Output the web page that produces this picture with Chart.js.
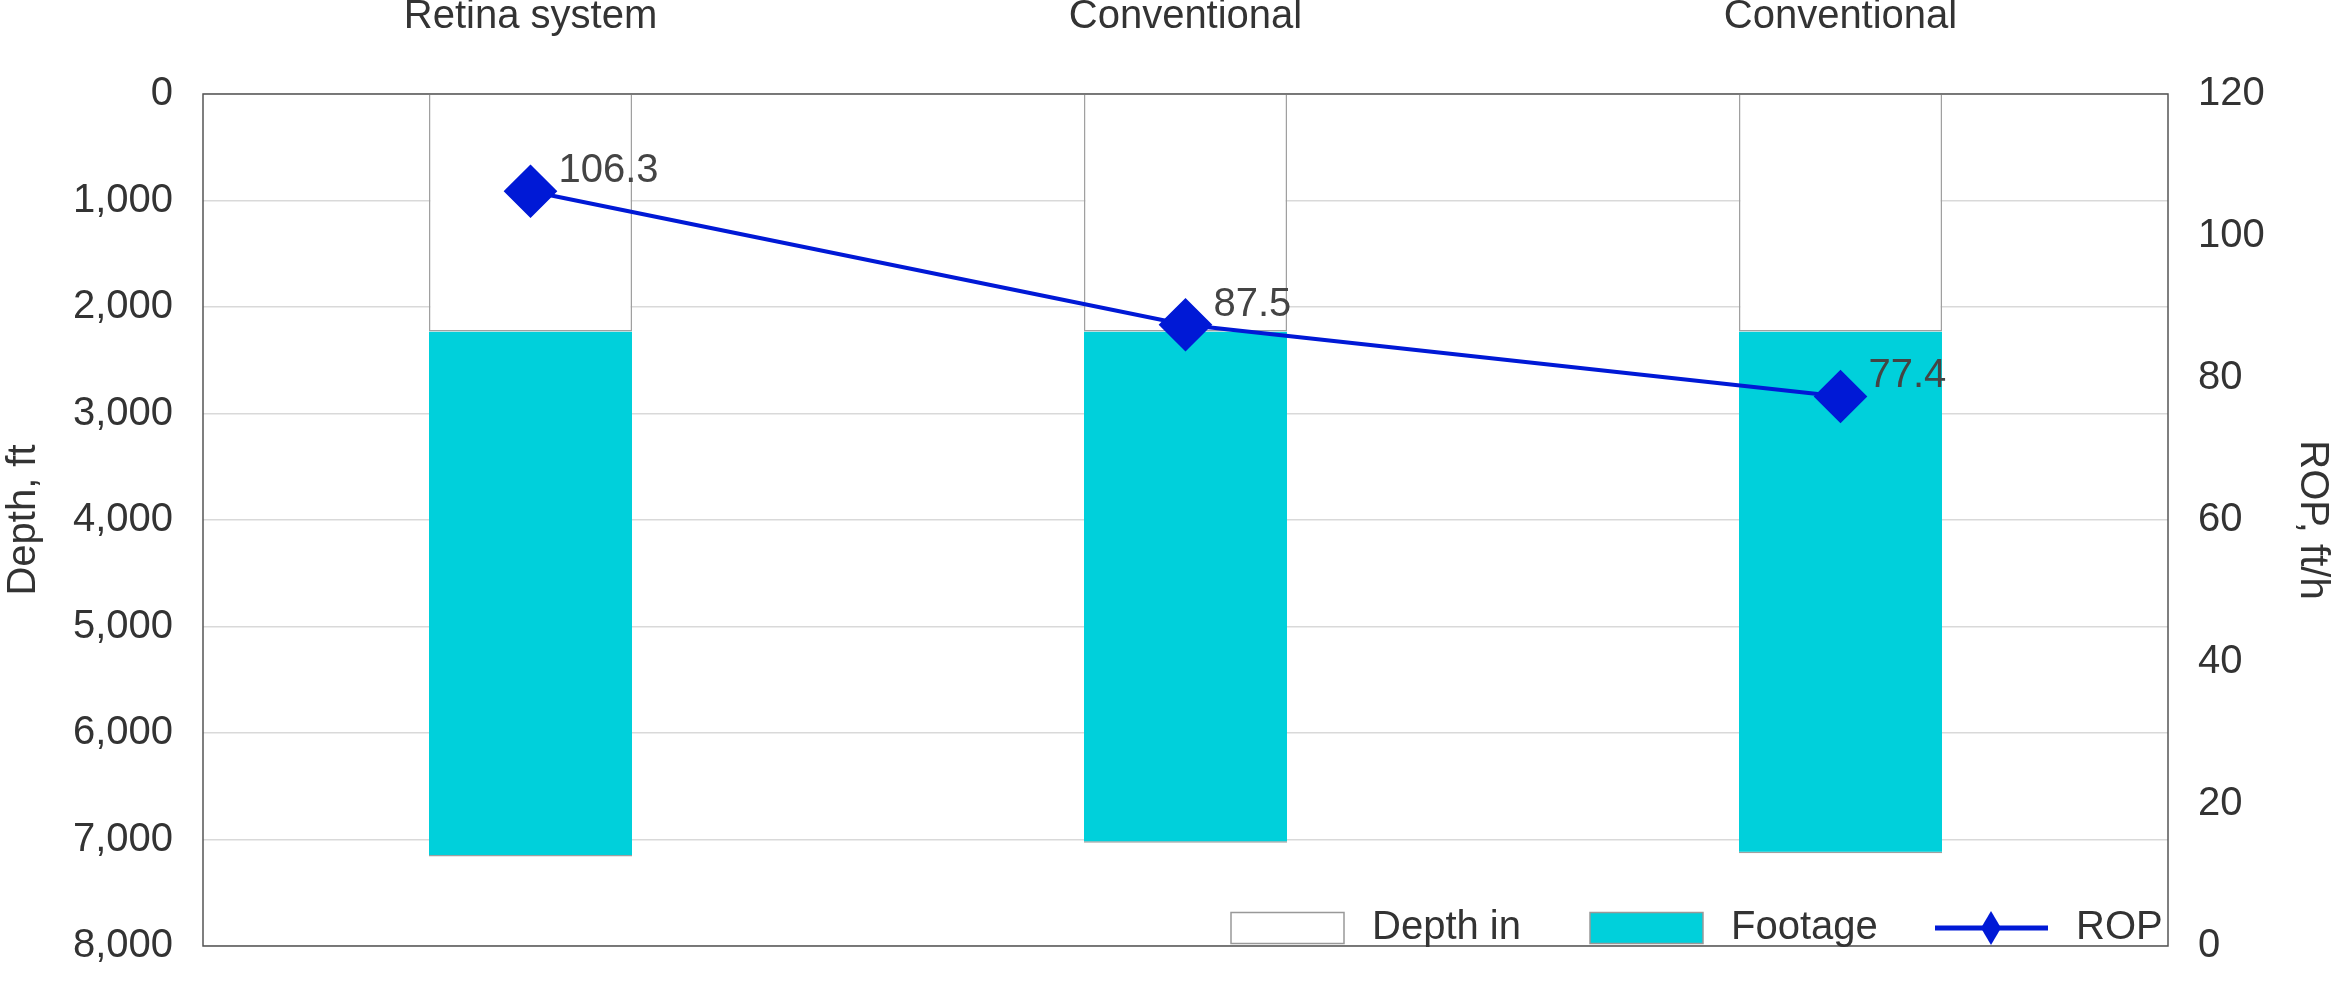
<!DOCTYPE html>
<html><head><meta charset="utf-8">
<script src="https://cdn.jsdelivr.net/npm/chart.js@4/dist/chart.umd.min.js"></script>
<style>html,body{margin:0;padding:0;background:#fff}#w{width:2336px;height:1000px}</style>
</head><body><div id="w"><canvas id="c"></canvas></div>
<script>
const categories = ["Retina system", "Conventional", "Conventional"];
const depthIn = [2230, 2230, 2230];
const footage = [4930, 4800, 4900];
const rop = [106.3, 87.5, 77.4];
const depthTicks = [0,1000,2000,3000,4000,5000,6000,7000,8000];
const ropTicks = [0,20,40,60,80,100,120];

const FONT = "'Liberation Sans Narrow','Liberation Sans',Arial,sans-serif";
const TXT = '#333333';
const BLUE = '#0019D6';
const CYAN = '#00D0DB';

const extras = {
  id:'extras',
  afterDatasetsDraw(chart){
    const ctx = chart.ctx, a = chart.chartArea;
    ctx.save();
    // labels for ROP
    const meta = chart.getDatasetMeta(2);
    ctx.font = '40px ' + FONT; ctx.fillStyle = '#444'; ctx.textBaseline='middle'; ctx.textAlign='left';
    meta.data.forEach((p,i)=>{ ctx.fillText(rop[i].toFixed(1), p.x+28, p.y-20); });
    // border
    ctx.strokeStyle='#555'; ctx.lineWidth=1.5;
    ctx.strokeRect(a.left, a.top, a.right-a.left, a.bottom-a.top);
    // legend
    const ly = 928, bw=113, bh=31;
    ctx.font = '40px ' + FONT; ctx.fillStyle=TXT;
    const items = [
      {x:1231, type:'box', fill:'#fff', label:chart.data.datasets[0].label},
      {x:1590, type:'box', fill:CYAN, label:chart.data.datasets[1].label},
      {x:1935, type:'line', label:chart.data.datasets[2].label}
    ];
    items.forEach(it=>{
      if(it.type==='box'){
        ctx.fillStyle=it.fill; ctx.fillRect(it.x, ly-bh/2, bw, bh);
        ctx.strokeStyle='#999'; ctx.lineWidth=1.5; ctx.strokeRect(it.x, ly-bh/2, bw, bh);
      } else {
        ctx.strokeStyle=BLUE; ctx.lineWidth=5; ctx.beginPath(); ctx.moveTo(it.x, ly); ctx.lineTo(it.x+113, ly); ctx.stroke();
        ctx.fillStyle=BLUE; ctx.beginPath(); const cx=it.x+56;
        ctx.moveTo(cx, ly-17); ctx.lineTo(cx+10, ly); ctx.lineTo(cx, ly+17); ctx.lineTo(cx-10, ly); ctx.closePath(); ctx.fill();
      }
      ctx.fillStyle=TXT; ctx.fillText(it.label, it.x+bw+28, ly);
    });
    ctx.restore();
  }
};

new Chart(document.getElementById('c'), {
  data:{
    labels: categories,
    datasets:[
      {type:'bar', label:'Depth in', data:depthIn, backgroundColor:'#fff', borderColor:'#a0a0a0', borderWidth:1.5, yAxisID:'y', stack:'s', order:2, barPercentage:0.31, categoryPercentage:1},
      {type:'bar', label:'Footage', data:footage, backgroundColor:CYAN, borderColor:'#a0a0a0', borderWidth:{top:1.5,left:0,right:0,bottom:1.5}, yAxisID:'y', stack:'s', order:2, barPercentage:0.31, categoryPercentage:1},
      {type:'line', label:'ROP', data:rop, borderColor:BLUE, backgroundColor:BLUE, borderWidth:4, pointStyle:'rectRot', pointRadius:24, pointHoverRadius:24, pointBorderColor:BLUE, yAxisID:'y1', order:1}
    ]
  },
  options:{
    responsive:true, maintainAspectRatio:false, animation:false, devicePixelRatio:1,
    layout:{padding:{bottom:35, top:0}},
    plugins:{legend:{display:false}, tooltip:{enabled:false}},
    scales:{
      x:{position:'top', stacked:true, offset:true, grid:{display:false}, border:{display:false},
         ticks:{color:TXT, font:{family:FONT, size:40}, padding:45},
         afterFit(s){ s.height = 94; }},
      y:{position:'left', stacked:true, reverse:true, min:0, max:8000,
         afterBuildTicks(s){ s.ticks = depthTicks.map(v=>({value:v})); },
         ticks:{color:TXT, font:{family:FONT, size:40}, padding:30, callback:v=>v.toLocaleString('en-US')},
         grid:{color:'#d9d9d9', lineWidth:1.5, drawTicks:false}, border:{display:false},
         title:{display:true, text:'Depth, ft', color:TXT, font:{family:FONT, size:40}, padding:0},
         afterFit(s){ s.width = 203; }},
      y1:{position:'right', min:0, max:120,
         afterBuildTicks(s){ s.ticks = ropTicks.map(v=>({value:v})); },
         ticks:{color:TXT, font:{family:FONT, size:40}, padding:30},
         grid:{display:false, drawTicks:false}, border:{display:false},
         title:{display:true, text:'ROP, ft/h', color:TXT, font:{family:FONT, size:40}, padding:0},
         afterFit(s){ s.width = 168; }}
    }
  },
  plugins:[extras]
});
</script></body></html>
